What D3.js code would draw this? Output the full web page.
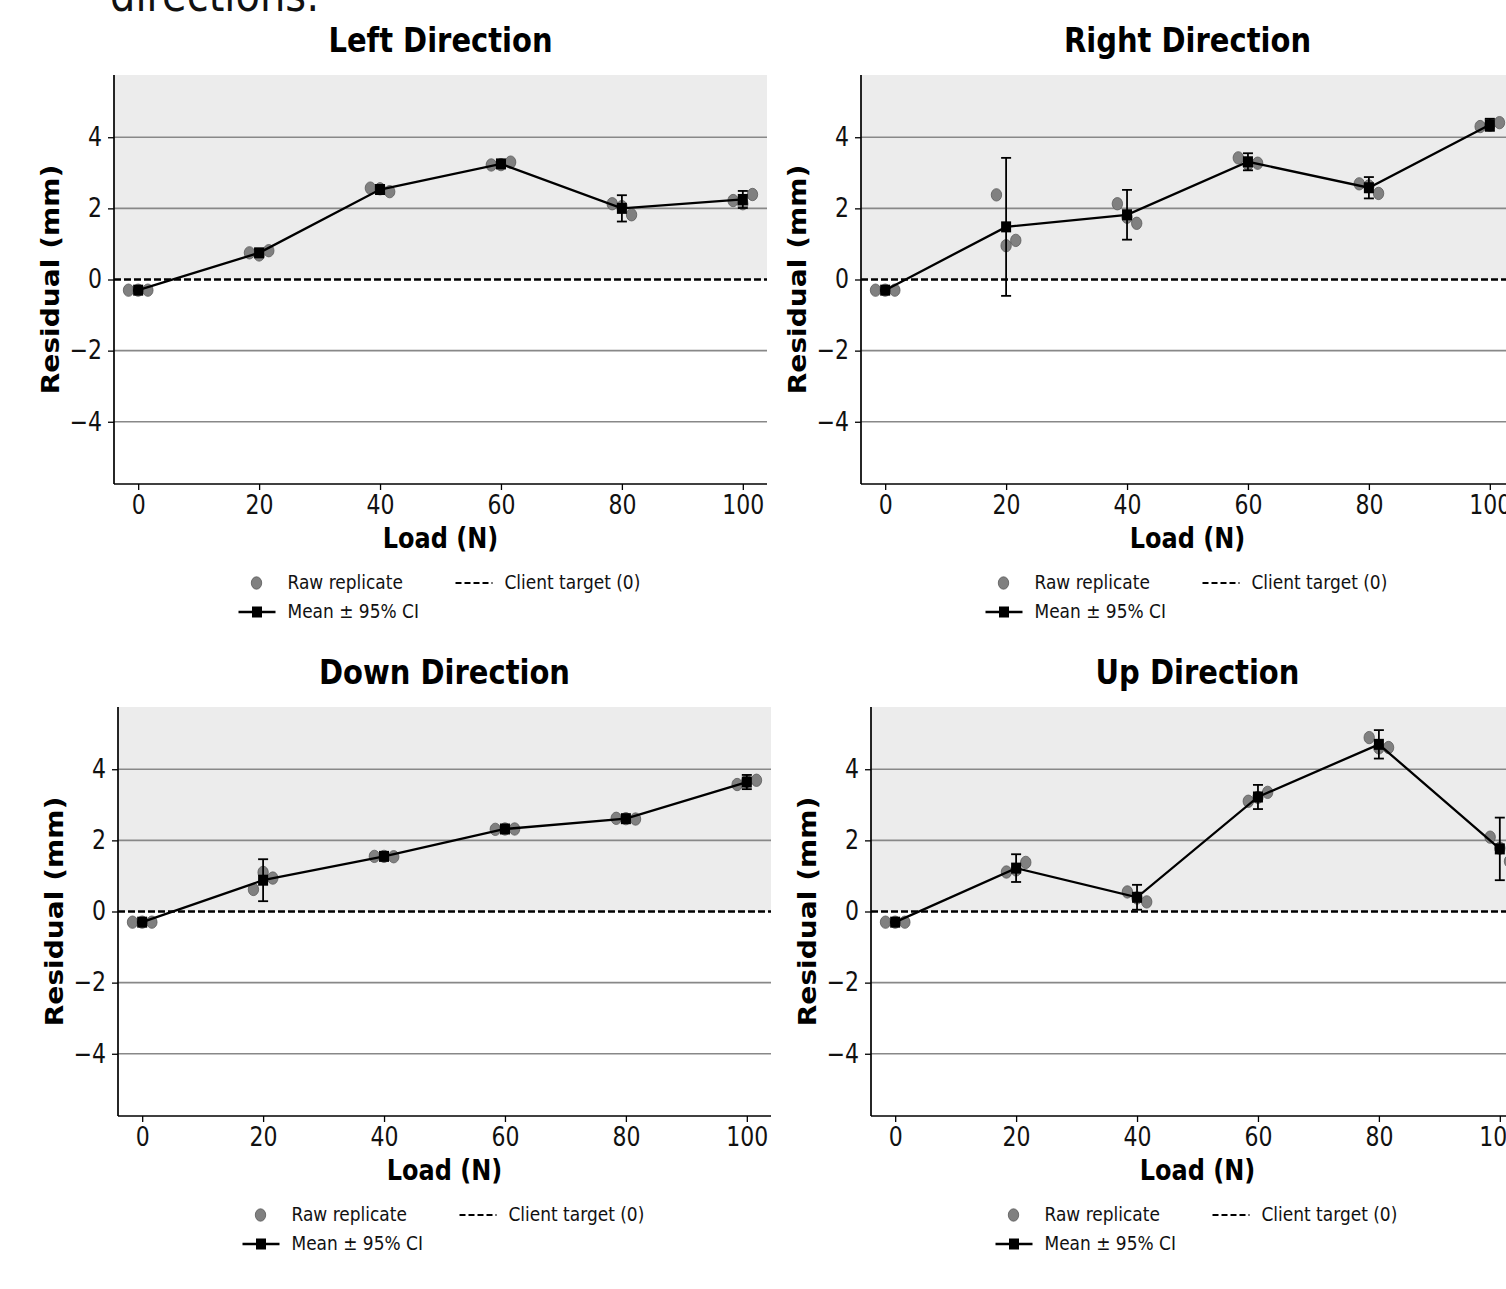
<!DOCTYPE html>
<html>
<head>
<meta charset="utf-8">
<script src="https://cdn.jsdelivr.net/npm/d3@7"></script>
<style>
  html, body { margin: 0; padding: 0; background: #fff; overflow: hidden; }
  svg { display: block; }
  text { font-family: "DejaVu Sans", sans-serif; }
</style>
</head>
<body>
<script>
// ---------- data ----------
const loads = [0, 20, 40, 60, 80, 100];
const yTicks = [-4, -2, 0, 2, 4];
const xTicks = [0, 20, 40, 60, 80, 100];
const jitter = [-1.6, 0, 1.6];

const leftRaw  = [[-0.30,-0.30,-0.30],[0.75,0.69,0.81],[2.57,2.55,2.47],[3.22,3.23,3.30],[2.13,2.05,1.82],[2.22,2.13,2.39]];
const leftMean = [-0.30, 0.75, 2.53, 3.25, 2.00, 2.25];
const leftCI   = [0.02, 0.10, 0.08, 0.06, 0.37, 0.24];

const rightRaw  = [[-0.30,-0.30,-0.30],[2.38,0.95,1.10],[2.13,1.75,1.58],[3.42,3.24,3.27],[2.69,2.63,2.42],[4.30,4.34,4.41]];
const rightMean = [-0.30, 1.48, 1.82, 3.31, 2.58, 4.35];
const rightCI   = [0.02, 1.94, 0.70, 0.24, 0.30, 0.17];

const downRaw  = [[-0.30,-0.30,-0.30],[0.62,1.10,0.94],[1.55,1.55,1.54],[2.31,2.32,2.32],[2.62,2.61,2.60],[3.57,3.66,3.69]];
const downMean = [-0.30, 0.88, 1.55, 2.32, 2.61, 3.64];
const downCI   = [0.02, 0.59, 0.03, 0.03, 0.03, 0.20];

const upRaw  = [[-0.30,-0.30,-0.30],[1.11,1.17,1.38],[0.55,0.38,0.27],[3.10,3.21,3.35],[4.89,4.60,4.61],[2.09,1.78,1.41]];
const upMean = [-0.30, 1.22, 0.40, 3.22, 4.70, 1.76];
const upCI   = [0.02, 0.39, 0.35, 0.34, 0.40, 0.88];

const titles = ["Left Direction", "Right Direction", "Down Direction", "Up Direction"];
const legendLabels = ["Raw replicate", "Mean \u00b1 95% CI", "Client target (0)"];

// ---------- layout ----------
const W = 1506, H = 1289;
const AW = 653, AH = 409;
const K = 1.17; // vertical stretch of the reference rendering
const panels = [
  {title: titles[0], raw: leftRaw,  mean: leftMean,  ci: leftCI,  x: 114, y: 75},
  {title: titles[1], raw: rightRaw, mean: rightMean, ci: rightCI, x: 861, y: 75},
  {title: titles[2], raw: downRaw,  mean: downMean,  ci: downCI,  x: 118, y: 707},
  {title: titles[3], raw: upRaw,    mean: upMean,    ci: upCI,    x: 871, y: 707}
];

const svg = d3.select("body").append("svg").attr("width", W).attr("height", H);

function addText(parent, tx, ty, str, size, opts = {}) {
  const t = parent.append("text")
    .attr("transform", opts.rotate
      ? `translate(${tx},${ty}) rotate(-90) scale(${K},1)`
      : `translate(${tx},${ty}) scale(1,${K})`)
    .attr("font-size", size)
    .attr("text-anchor", opts.anchor || "start")
    .attr("fill", opts.fill || "#000")
    .text(str);
  if (opts.bold) t.attr("font-weight", "bold");
  if (opts.family) t.attr("font-family", opts.family);
  return t;
}

// cropped page text at top
addText(svg, 110, 11, "directions:", 40, {family: "'Noto Sans', 'Open Sans', sans-serif", fill: "#111"});

const x = d3.scaleLinear().domain([-4, 104]).range([0, AW]);
const y = d3.scaleLinear().domain([-5.75, 5.75]).range([AH, 0]);
const fmt = d => d < 0 ? "\u2212" + Math.abs(d) : String(d);

panels.forEach(p => {
  const g = svg.append("g").attr("transform", `translate(${p.x},${p.y})`);

  // shaded positive region
  g.append("rect").attr("x", 0).attr("y", 0).attr("width", AW).attr("height", y(0))
    .attr("fill", "#ececec");

  // gridlines
  g.selectAll(".grid").data(yTicks.filter(t => t !== 0)).enter().append("line")
    .attr("x1", 0).attr("x2", AW).attr("y1", d => y(d)).attr("y2", d => y(d))
    .attr("stroke", "#888").attr("stroke-width", 1.6);

  // client target dashed line
  g.append("line").attr("x1", 0).attr("x2", AW).attr("y1", y(0)).attr("y2", y(0))
    .attr("stroke", "#000").attr("stroke-width", 2.5).attr("stroke-dasharray", "7,3");

  // raw replicates
  const rawPts = [];
  p.raw.forEach((vals, i) => vals.forEach((v, j) => rawPts.push({l: loads[i] + jitter[j], v})));
  g.selectAll(".raw").data(rawPts).enter().append("ellipse")
    .attr("cx", d => x(d.l)).attr("cy", d => y(d.v)).attr("rx", 5.2).attr("ry", 6.2)
    .attr("fill", "#808080").attr("stroke", "#5a5a5a").attr("stroke-width", 0.8);

  // mean line
  const line = d3.line().x((d, i) => x(loads[i])).y(d => y(d));
  g.append("path").datum(p.mean).attr("d", line).attr("fill", "none")
    .attr("stroke", "#000").attr("stroke-width", 2.3);

  // error bars
  const eb = g.selectAll(".eb").data(p.mean).enter().append("g");
  eb.append("line").attr("x1", (d, i) => x(loads[i])).attr("x2", (d, i) => x(loads[i]))
    .attr("y1", (d, i) => y(d - p.ci[i])).attr("y2", (d, i) => y(d + p.ci[i]))
    .attr("stroke", "#000").attr("stroke-width", 1.8);
  [-1, 1].forEach(s => {
    eb.append("line").attr("x1", (d, i) => x(loads[i]) - 5).attr("x2", (d, i) => x(loads[i]) + 5)
      .attr("y1", (d, i) => y(d + s * p.ci[i])).attr("y2", (d, i) => y(d + s * p.ci[i]))
      .attr("stroke", "#000").attr("stroke-width", 1.8);
  });

  // mean squares
  g.selectAll(".mean").data(p.mean).enter().append("rect")
    .attr("x", (d, i) => x(loads[i]) - 5).attr("y", d => y(d) - 5.5)
    .attr("width", 10).attr("height", 11).attr("fill", "#000");

  // axes
  const xa = g.append("g").attr("transform", `translate(0,${AH})`)
    .call(d3.axisBottom(x).tickValues(xTicks).tickSize(6).tickPadding(4));
  const ya = g.append("g")
    .call(d3.axisLeft(y).tickValues(yTicks).tickFormat(fmt).tickSize(6).tickPadding(6));
  [xa, ya].forEach(a => {
    a.select(".domain").attr("stroke", "#000").attr("stroke-width", 1.7);
    a.selectAll(".tick line").attr("stroke", "#000").attr("stroke-width", 1.3);
    a.selectAll(".tick text").attr("font-size", 22).attr("fill", "#111")
      .attr("font-family", "'DejaVu Sans', sans-serif")
      .attr("transform", `scale(1,${K})`);
  });
  xa.select(".domain").attr("d", `M0,0H${AW}`);
  ya.select(".domain").attr("d", `M0,0V${AH}`);

  // title and axis labels
  addText(g, AW / 2, -23, p.title, 29, {anchor: "middle", bold: true});
  addText(g, AW / 2, AH + 64, "Load (N)", 24, {anchor: "middle", bold: true});
  addText(g, -55, AH / 2, "Residual (mm)", 24, {anchor: "middle", bold: true, rotate: true});

  // legend
  const lg = g.append("g").attr("transform", `translate(${AW / 2},${AH + 99})`);
  const c1 = -202;
  lg.append("ellipse").attr("cx", c1 + 18).attr("cy", 0).attr("rx", 5.2).attr("ry", 6.2)
    .attr("fill", "#808080").attr("stroke", "#5a5a5a").attr("stroke-width", 0.8);
  addText(lg, c1 + 49, 6, legendLabels[0], 17, {fill: "#111"});
  lg.append("line").attr("x1", c1).attr("x2", c1 + 37).attr("y1", 29).attr("y2", 29)
    .attr("stroke", "#000").attr("stroke-width", 2.3);
  lg.append("rect").attr("x", c1 + 13.5).attr("y", 23.5).attr("width", 10).attr("height", 11).attr("fill", "#000");
  addText(lg, c1 + 49, 35, legendLabels[1], 17, {fill: "#111"});
  const c2 = 15;
  lg.append("line").attr("x1", c2).attr("x2", c2 + 37).attr("y1", 0).attr("y2", 0)
    .attr("stroke", "#000").attr("stroke-width", 2).attr("stroke-dasharray", "6,3");
  addText(lg, c2 + 49, 6, legendLabels[2], 17, {fill: "#111"});
});
</script>
</body>
</html>
